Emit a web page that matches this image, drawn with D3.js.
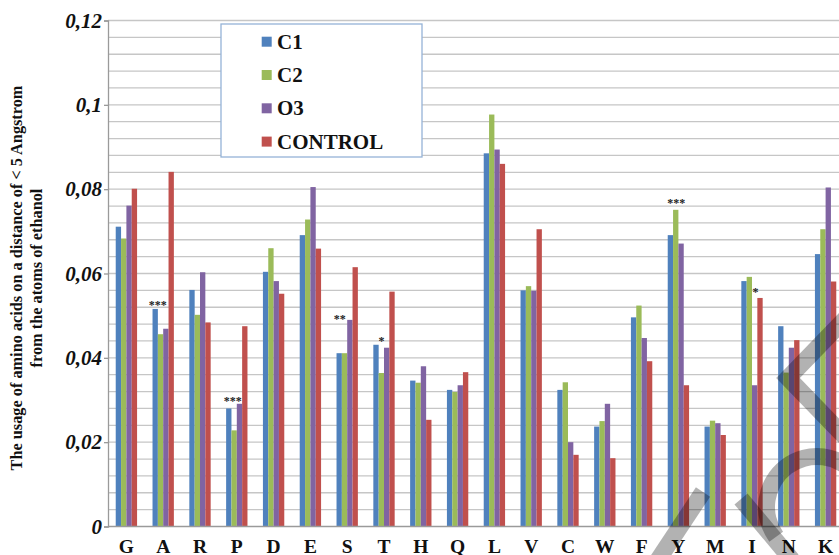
<!DOCTYPE html>
<html>
<head>
<meta charset="utf-8">
<script src="https://cdn.jsdelivr.net/npm/d3@7/dist/d3.min.js"></script>
<style>
  html, body { margin: 0; padding: 0; background: #fff; }
  svg { display: block; }
  text { font-family: "Liberation Serif", "Times New Roman", serif; }
</style>
</head>
<body>
<svg id="chart" width="839" height="555"></svg>
<script>
// Amino acids on the x axis
const categories = ["G","A","R","P","D","E","S","T","H","Q","L","V","C","W","F","Y","M","I","N","K"];

// Series names and colours
const seriesNames = ["C1", "C2", "O3", "CONTROL"];
const seriesColors = ["#4F81BD", "#9BBB59", "#8064A2", "#C0504D"];

// Usage values per series, in category order
const c1Values      = [0.0711,0.0516,0.0561,0.0280,0.0604,0.0691,0.0411,0.0431,0.0346,0.0324,0.0885,0.0560,0.0324,0.0237,0.0496,0.0691,0.0237,0.0582,0.0475,0.0646];
const c2Values      = [0.0683,0.0456,0.0502,0.0228,0.0660,0.0728,0.0411,0.0364,0.0341,0.0319,0.0977,0.0570,0.0342,0.0250,0.0524,0.0751,0.0251,0.0592,0.0365,0.0705];
const o3Values      = [0.0761,0.0469,0.0603,0.0291,0.0582,0.0805,0.0490,0.0424,0.0380,0.0335,0.0894,0.0559,0.0200,0.0291,0.0447,0.0671,0.0245,0.0335,0.0424,0.0804];
const controlValues = [0.0801,0.0841,0.0484,0.0475,0.0552,0.0659,0.0615,0.0557,0.0253,0.0366,0.0860,0.0705,0.0170,0.0162,0.0392,0.0335,0.0217,0.0542,0.0442,0.0581];

// Y axis labels
const yTickValues = [0, 0.02, 0.04, 0.06, 0.08, 0.1, 0.12];
const yTickLabels = ["0", "0,02", "0,04", "0,06", "0,08", "0,1", "0,12"];

// Significance markers: category, marker text, horizontal slot inside the group (in bar widths), height
const sigCategories = ["A", "P", "S", "T", "Y", "I"];
const sigMarks      = ["***", "***", "**", "*", "***", "*"];
const sigSlots      = [0.98, 1.24, 0.6, 1.52, 1.6, 2.66];
const sigLevels     = [0.0533, 0.0305, 0.0500, 0.0447, 0.0774, 0.0563];

const yTitleLines = ["The usage of amino acids on a distance of < 5 Angstrom", "from the atoms of ethanol"];

const allSeries = [c1Values, c2Values, o3Values, controlValues];

const svg = d3.select("#chart");
const W = 839, H = 555;
const plot = { left: 108, right: 844, top: 20.5, bottom: 526.5 };

const y = d3.scaleLinear().domain([0, 0.12]).range([plot.bottom, plot.top]);
const x = d3.scaleBand().domain(categories).range([plot.left, plot.right])
  .paddingInner(0.42).paddingOuter(0.21);
const xs = d3.scaleBand().domain(seriesNames).range([0, x.bandwidth()]);

// Horizontal gridlines every 0.004
const gridVals = d3.range(0, 31).map(i => i * 0.004);
svg.append("g").selectAll("line").data(gridVals.slice(1)).join("line")
  .attr("x1", plot.left).attr("x2", W)
  .attr("y1", d => y(d)).attr("y2", d => y(d))
  .attr("stroke", "#c6c6c6").attr("stroke-width", 1.3);

// Y axis
const yAxis = d3.axisLeft(y).tickValues(yTickValues)
  .tickFormat((d, i) => yTickLabels[i]).tickSize(4).tickPadding(4);
const gy = svg.append("g").attr("transform", `translate(${plot.left},0)`).call(yAxis);
gy.select(".domain").attr("stroke", "#9a9a9a").attr("stroke-width", 1.3);
gy.selectAll(".tick line").attr("stroke", "#9a9a9a").attr("stroke-width", 1.3);
gy.selectAll(".tick text")
  .attr("font-family", "Liberation Serif, serif")
  .attr("font-size", 21).attr("font-weight", "bold").attr("font-style", "italic")
  .attr("fill", "#111").attr("x", -6);

// Bars
const groups = svg.append("g").selectAll("g").data(categories).join("g")
  .attr("transform", d => `translate(${x(d)},0)`);
groups.selectAll("rect")
  .data((c, ci) => seriesNames.map((s, si) => ({ s, si, v: allSeries[si][ci] })))
  .join("rect")
  .attr("x", d => xs(d.s)).attr("width", xs.bandwidth())
  .attr("y", d => y(d.v)).attr("height", d => y(0) - y(d.v))
  .attr("fill", d => seriesColors[d.si]);

// X axis baseline
svg.append("line").attr("x1", plot.left).attr("x2", W)
  .attr("y1", y(0)).attr("y2", y(0))
  .attr("stroke", "#9a9a9a").attr("stroke-width", 1.5);

// X axis labels
svg.append("g").selectAll("text").data(categories).join("text")
  .attr("x", d => x(d) + x.bandwidth() / 2).attr("y", 552.5)
  .attr("text-anchor", "middle").attr("font-size", 19.5).attr("font-weight", "bold")
  .attr("fill", "#111").text(d => d);

// Significance markers
svg.append("g").selectAll("text").data(sigCategories).join("text")
  .attr("x", (c, i) => x(c) + sigSlots[i] * xs.bandwidth())
  .attr("y", (c, i) => y(sigLevels[i]) + 7)
  .attr("text-anchor", "middle").attr("font-size", 12).attr("font-weight", "bold")
  .attr("fill", "#222").text((c, i) => sigMarks[i]);

// Y axis title
const yTitle = svg.append("text")
  .attr("transform", "translate(22,278) rotate(-90)")
  .attr("text-anchor", "middle").attr("font-size", 16.3).attr("font-weight", "bold")
  .attr("fill", "#111");
yTitle.selectAll("tspan").data(yTitleLines).join("tspan")
  .attr("x", 0).attr("dy", (d, i) => i === 0 ? 0 : 20).text(d => d);

// Legend
const legend = svg.append("g").attr("transform", "translate(221,24)");
legend.append("rect").attr("width", 201).attr("height", 133)
  .attr("fill", "#fff").attr("stroke", "#95b3d7").attr("stroke-width", 1.3);
const li = legend.selectAll("g").data(seriesNames).join("g")
  .attr("transform", (d, i) => `translate(0,${17.7 + i * 33.3})`);
li.append("rect").attr("x", 40.7).attr("y", -5).attr("width", 10).attr("height", 10)
  .attr("fill", (d, i) => seriesColors[i]);
li.append("text").attr("x", 56).attr("y", 7).attr("font-size", 21)
  .attr("font-weight", "bold").attr("fill", "#111").text(d => d);

// Diagonal watermark strokes over the lower right corner
const wm = svg.append("g").attr("fill", "none").attr("stroke", "rgba(0,0,0,0.3)")
  .attr("stroke-width", 17).attr("stroke-linecap", "butt");
const wmPaths = [
  "M703,492 L658,560",
  "M741,499 L792,560",
  "M848,316 L788,378 L848,440",
];
wm.selectAll("path.s").data(wmPaths).join("path").attr("class", "s").attr("d", d => d);
wm.append("path")
  .attr("d", d3.arc()({ innerRadius: 42, outerRadius: 59, startAngle: -2.2 , endAngle: 0.9 }))
  .attr("transform", "translate(817,507)")
  .attr("fill", "rgba(0,0,0,0.3)").attr("stroke", "none");
</script>
</body>
</html>
